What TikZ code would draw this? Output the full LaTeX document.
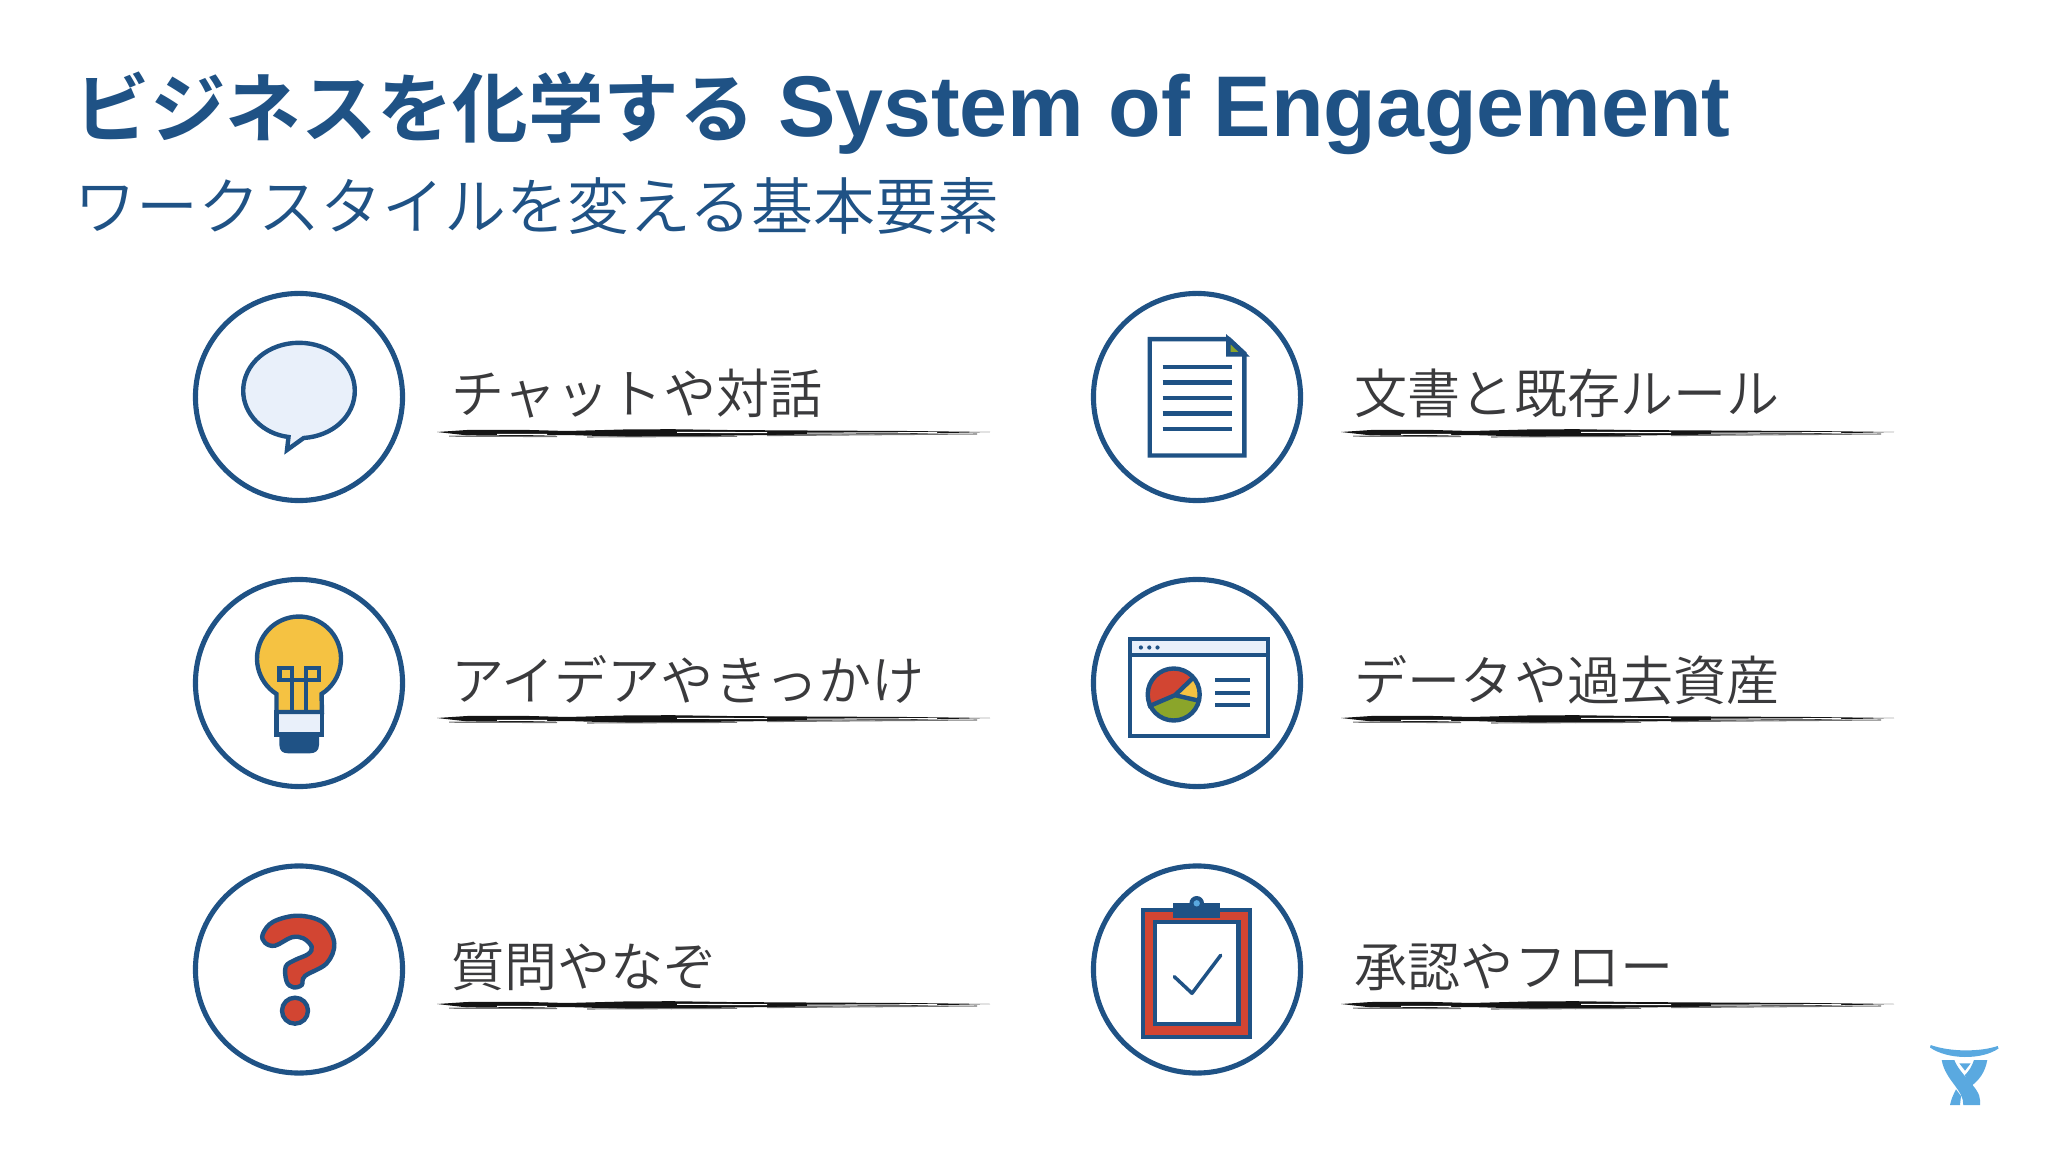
\documentclass[tikz,border=0pt]{standalone}
\usepackage{fontspec}
\setmainfont{Liberation Sans}
\newfontfamily\jpfont{Noto Sans CJK JP DemiLight}
\newfontfamily\jptitle{Noto Sans CJK JP Bold}
\definecolor{inkblue}{HTML}{1F5285}
\definecolor{palefill}{HTML}{E9F0FA}
\definecolor{bulbyellow}{HTML}{F5C242}
\definecolor{brickred}{HTML}{D24532}
\definecolor{leafgreen}{HTML}{8BA52A}
\definecolor{logoblue}{HTML}{5AA9E0}
\definecolor{labelgrey}{HTML}{3A3A3C}
\tikzset{
  ring/.style={circle,draw=inkblue,line width=1.45pt,minimum size=2.07cm,inner sep=0pt},
  icon/.style={draw=inkblue,line width=1.25pt},
  label/.style={anchor=base west,inner sep=0pt,text=labelgrey,font=\jpfont\fontsize{15.1}{18}\selectfont},
}
\begin{document}
\begin{tikzpicture}[x=0.01cm,y=-0.01cm]
\useasboundingbox (0,0) rectangle (2048,1152);

\node[anchor=base west,inner sep=0pt,text=inkblue] (title) at (74,137)
  {\fontsize{21.5}{26}\selectfont{\jptitle ビジネスを化学する}\hspace{6.5pt}\fontsize{24.5}{26}\selectfont\bfseries System of Engagement};
\node[anchor=base west,inner sep=0pt,text=inkblue,font=\jpfont\fontsize{17.6}{21}\selectfont] (subtitle) at (74,230)
  {ワークスタイルを変える基本要素};

\node[ring] (chat) at (299,397) {};
\node[ring] (idea) at (299,683) {};
\node[ring] (ask)  at (299,969.5) {};
\node[ring] (docs) at (1197,397) {};
\node[ring] (data) at (1197,683) {};
\node[ring] (flow) at (1197,969.5) {};

\node[label] (chatlabel) at (450.5,414) {チャットや対話};
\node[label] (idealabel) at (450.5,700) {アイデアやきっかけ};
\node[label] (asklabel)  at (450.5,986) {質問やなぞ};
\node[label] (docslabel) at (1354,414) {文書と既存ルール};
\node[label] (datalabel) at (1354,700) {データや過去資産};
\node[label] (flowlabel) at (1354,986) {承認やフロー};

\foreach \bx in {437,1341}
\foreach \by in {433,719,1005}{
  \begin{scope}[shift={(\bx,\by)}]
  \fill[black!92] (0,-1) -- (30,-3) -- (85,-3.2) -- (130,-2) -- (190,-3.6) -- (235,-3.8) -- (290,-3) -- (350,-2.6) -- (470,-2) -- (553,-1)
    -- (470,1) -- (350,1.8) -- (290,2.6) -- (235,4) -- (190,3.8) -- (130,2) -- (85,3) -- (30,2.4) -- cycle;
  \draw[white,line width=.3pt] (240,-.6) -- (330,-.4) (370,.2) -- (500,-.4) (60,1.4) -- (110,1.4);
  \draw[black!55,line width=.3pt] (12,3.2) -- (120,3.6) (150,4) -- (300,3.4) (330,2.6) -- (540,1);
  \end{scope}
}

\draw[icon,fill=palefill] (288.5,437) .. controls (263,434) and (243.2,414) .. (243.2,390.8)
  .. controls (243.2,364) and (268,342.8) .. (299,342.8) .. controls (330,342.8) and (354.8,364) .. (354.8,390.8)
  .. controls (354.8,416) and (333,436) .. (303.7,438) -- (287,450) -- cycle;

\fill[inkblue] (279.4,734) -- (319,734) -- (319,745) .. controls (319,751) and (315,753.3) .. (310,753.3)
  -- (288,753.3) .. controls (283,753.3) and (279.4,751) .. (279.4,745) -- cycle;
\draw[icon,fill=palefill] (276.5,712) rectangle (322,734.5);
\draw[icon,fill=bulbyellow] (276.5,712) -- (276.5,694) arc (122.4:417.6:42) -- (322,712) -- cycle;
\draw[icon] (279.5,668.2) rectangle (292,680);
\draw[icon] (306,668.2) rectangle (318.8,680);
\draw[icon] (292,680) -- (306,680) (292,680) -- (292,712) (306,680) -- (306,712);

\draw[icon,fill=brickred] plot[smooth cycle,tension=.6] coordinates {(262.7,934.3) (273.3,921.7) (298.3,915.7) (323.3,922.7) (334.3,943.3) (326.7,963.3) (305,976) (301.7,985) (293.3,987.3) (286.7,981.7) (285.7,966.7) (295,960) (308.3,954) (311.7,946.7) (303.3,938.3) (291.7,937.3) (275,945.7) (265,942.7)};
\draw[icon,fill=brickred] (295,1010.7) circle (13);

\draw[icon,fill=white] (1149.7,339.2) -- (1229,339.2) -- (1244.3,353.4) -- (1244.3,455.5) -- (1149.7,455.5) -- cycle;
\draw[icon,fill=leafgreen] (1228.4,339.2) -- (1228.4,354.4) -- (1244.3,354.4) -- cycle;
\foreach \ly in {366.9,382.5,398,413.6,429.1}
  \draw[icon] (1162.5,\ly) -- (1231.5,\ly);

\draw[icon,fill=white] (1129.7,639) rectangle (1268,735.7);
\draw[icon,fill=palefill] (1129.7,639) rectangle (1268,655);
\foreach \dx in {1140.9,1149.3,1157.5}
  \fill[inkblue] (\dx,647.5) circle (2.1);
\begin{scope}
\clip (1173.7,694.5) circle (26);
\fill[brickred] (1175,695.2) -- (1210,661.4) -- (1121,650) -- (1121,718.2) -- cycle;
\fill[bulbyellow] (1175,695.2) -- (1210,661.4) -- (1240,680) -- (1224.4,706.6) -- cycle;
\fill[leafgreen] (1175,695.2) -- (1224.4,706.6) -- (1200,760) -- (1121,760) -- (1121,718.2) -- cycle;
\end{scope}
\draw[icon] (1192.6,678.3) -- (1175,695.2) -- (1199.7,700.9) (1175,695.2) -- (1148,706.7);
\draw[icon] (1173.7,694.5) circle (26);
\foreach \ly in {680.3,693.1,705.3}
  \draw[icon] (1215.3,\ly) -- (1249.7,\ly);

\draw[icon,fill=brickred] (1143.2,910) rectangle (1250.2,1037);
\draw[icon,fill=white] (1155.2,922.2) rectangle (1238.5,1023.8);
\fill[inkblue] (1196.7,903.3) circle (7.3);
\fill[inkblue] (1173.3,903.3) rectangle (1220,917.7);
\fill[logoblue] (1196.7,903.3) circle (3.2);
\draw[icon,line width=1pt,line cap=round,line join=round] (1174.3,976.7) -- (1192,993.3) -- (1220.7,955.3);

\fill[logoblue] (1930.7,1045) .. controls (1950,1052) and (1980,1052) .. (1997.7,1046)
  -- (1998.5,1048.5) .. controls (1982,1060) and (1948,1060) .. (1930,1047.5) -- cycle;
\fill[logoblue] (1941.7,1060) -- (1954.3,1060) .. controls (1960,1075) and (1980,1088) .. (1980,1100)
  -- (1980,1105) -- (1963.3,1105) .. controls (1964,1090) and (1945,1080) .. (1941.7,1060) -- cycle;
\fill[logoblue] (1987.3,1060) -- (1974,1060) .. controls (1972,1066) and (1969,1071) .. (1965,1075)
  -- (1968.3,1088.3) .. controls (1980,1080) and (1985,1072) .. (1987.3,1060) -- cycle;
\fill[logoblue] (1956,1089.3) .. controls (1953,1095) and (1951,1100) .. (1950,1105) -- (1960,1105) -- (1961,1096) -- cycle;
\fill[logoblue] (1959.3,1063.3) -- (1970.7,1063.3) -- (1965,1070.7) -- cycle;
\end{tikzpicture}
\end{document}
